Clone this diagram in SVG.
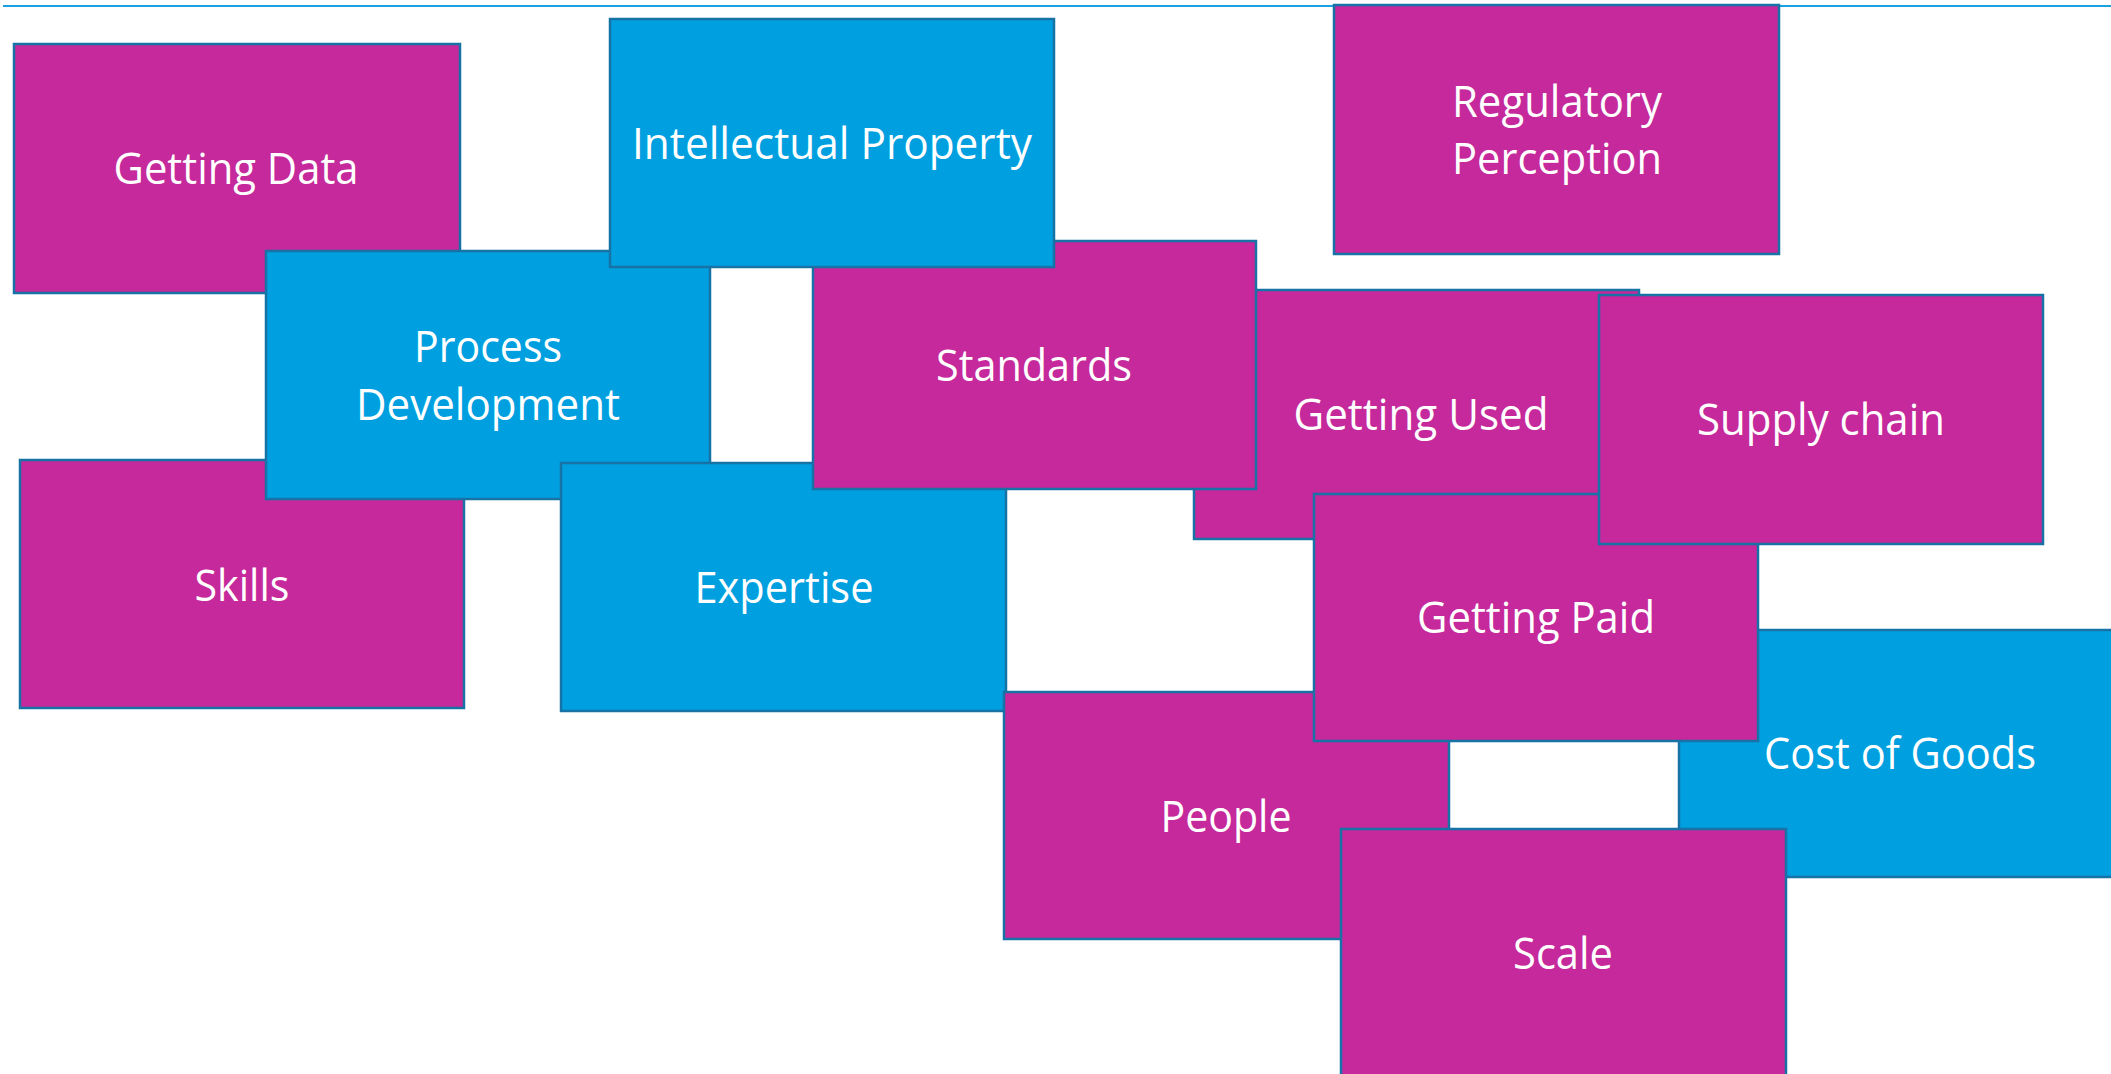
<svg xmlns="http://www.w3.org/2000/svg" width="2111" height="1074" viewBox="0 0 2111 1074">
<style>
.m{fill:#C5299B;stroke:#1772A6;stroke-width:2.5}
.b{fill:#00A0E0;stroke:#1772A6;stroke-width:2.5}
text{font-family:"Open Sans","Liberation Sans",sans-serif;font-size:44px;fill:#FFFFFF;text-anchor:middle}
</style>
<rect x="0" y="0" width="2111" height="1074" fill="#FFFFFF"/>
<line x1="3" y1="6" x2="2111" y2="6" stroke="#1BA1E2" stroke-width="2"/>
<g id="getting-data"><rect class="m" x="14" y="44" width="446" height="249"/><text x="236" y="184" textLength="245" lengthAdjust="spacingAndGlyphs">Getting Data</text></g>
<g id="skills"><rect class="m" x="20" y="460" width="444" height="248"/><text x="242" y="601" textLength="95" lengthAdjust="spacingAndGlyphs">Skills</text></g>
<g id="process-development"><rect class="b" x="266" y="251" width="444" height="248"/><text x="488" y="362" textLength="148" lengthAdjust="spacingAndGlyphs">Process</text><text x="488" y="420" textLength="264" lengthAdjust="spacingAndGlyphs">Development</text></g>
<g id="expertise"><rect class="b" x="561" y="463" width="445" height="248"/><text x="784" y="603" textLength="179" lengthAdjust="spacingAndGlyphs">Expertise</text></g>
<g id="getting-used"><rect class="m" x="1194" y="290" width="445" height="249"/><text x="1421" y="430" textLength="255" lengthAdjust="spacingAndGlyphs">Getting Used</text></g>
<g id="standards"><rect class="m" x="813" y="241" width="443" height="248"/><text x="1034" y="381" textLength="196" lengthAdjust="spacingAndGlyphs">Standards</text></g>
<g id="intellectual-property"><rect class="b" x="610" y="19" width="444" height="248"/><text x="832" y="159" textLength="400" lengthAdjust="spacingAndGlyphs">Intellectual Property</text></g>
<g id="regulatory-perception"><rect class="m" x="1334" y="5" width="445" height="249"/><text x="1557" y="117" textLength="210" lengthAdjust="spacingAndGlyphs">Regulatory</text><text x="1557" y="174" textLength="210" lengthAdjust="spacingAndGlyphs">Perception</text></g>
<g id="cost-of-goods"><rect class="b" x="1679" y="630" width="445" height="247"/><text x="1900" y="769" textLength="272" lengthAdjust="spacingAndGlyphs">Cost of Goods</text></g>
<g id="people"><rect class="m" x="1004" y="692" width="445" height="247"/><text x="1226" y="832" textLength="131" lengthAdjust="spacingAndGlyphs">People</text></g>
<g id="getting-paid"><rect class="m" x="1314" y="494" width="444" height="247"/><text x="1536" y="633" textLength="238" lengthAdjust="spacingAndGlyphs">Getting Paid</text></g>
<g id="supply-chain"><rect class="m" x="1599" y="295" width="444" height="249"/><text x="1821" y="435" textLength="248" lengthAdjust="spacingAndGlyphs">Supply chain</text></g>
<g id="scale"><rect class="m" x="1341" y="829" width="445" height="250"/><text x="1563" y="969" textLength="100" lengthAdjust="spacingAndGlyphs">Scale</text></g>
<g id="connectors"></g>
</svg>
